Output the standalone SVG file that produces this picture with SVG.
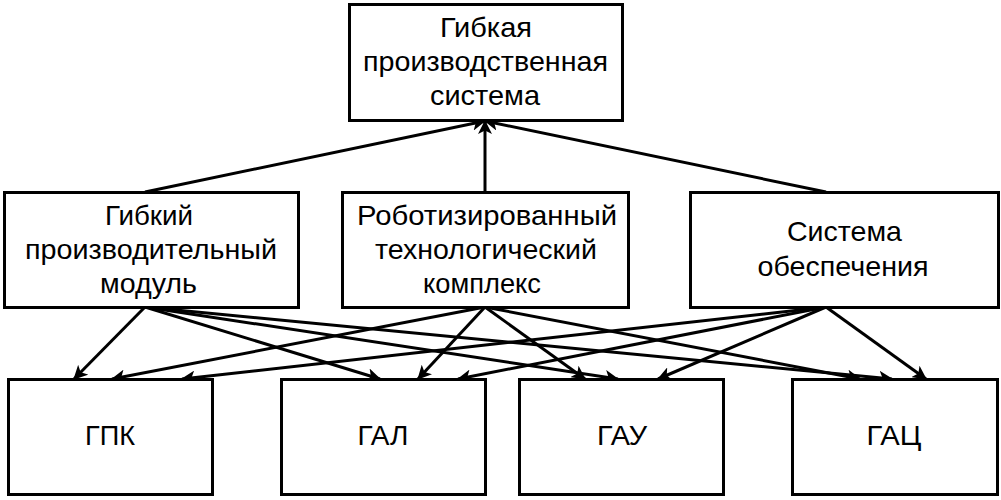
<svg xmlns="http://www.w3.org/2000/svg" width="1001" height="500" viewBox="0 0 1001 500">
<defs>
<style>
.box{fill:#fff;stroke:#000;stroke-width:3}
.t{font-family:"Liberation Sans",Arial,sans-serif;font-size:28px;fill:#000;text-anchor:middle}
.c{stroke:#000;stroke-width:3;fill:none;marker-end:url(#ah)}
</style>
<marker id="ah" markerWidth="14" markerHeight="14" viewBox="0 0 14 14" refX="13" refY="7" orient="auto" markerUnits="userSpaceOnUse">
<path d="M0,0 L14,7 L0,14 L3.5,7 Z" fill="#000"/>
</marker>
</defs>
<rect width="1001" height="500" fill="#fff"/>
<g id="connectors">
<line class="c" x1="145" y1="192" x2="485" y2="121"/>
<line class="c" x1="485" y1="192" x2="485" y2="121"/>
<line class="c" x1="826" y1="192" x2="485" y2="121"/>
<line class="c" x1="145" y1="307" x2="74" y2="379"/>
<line class="c" x1="145" y1="307" x2="380" y2="379"/>
<line class="c" x1="145" y1="307" x2="618" y2="379"/>
<line class="c" x1="145" y1="307" x2="892" y2="379"/>
<line class="c" x1="485" y1="307" x2="112" y2="379"/>
<line class="c" x1="485" y1="307" x2="418" y2="379"/>
<line class="c" x1="485" y1="307" x2="585" y2="379"/>
<line class="c" x1="485" y1="307" x2="860" y2="379"/>
<line class="c" x1="826" y1="307" x2="182" y2="379"/>
<line class="c" x1="826" y1="307" x2="458" y2="379"/>
<line class="c" x1="826" y1="307" x2="658" y2="379"/>
<line class="c" x1="826" y1="307" x2="926" y2="379"/>
</g>
<g id="n-gps">
<rect class="box" x="349.5" y="4.5" width="273" height="116"/>
<text class="t" x="486" y="37" textLength="92" lengthAdjust="spacingAndGlyphs">Гибкая</text>
<text class="t" x="485.5" y="71" textLength="245" lengthAdjust="spacingAndGlyphs">производственная</text>
<text class="t" x="485" y="105" textLength="110" lengthAdjust="spacingAndGlyphs">система</text>
</g>
<g id="n-gpm">
<rect class="box" x="4.5" y="192.5" width="294" height="115"/>
<text class="t" x="149" y="225" textLength="88" lengthAdjust="spacingAndGlyphs">Гибкий</text>
<text class="t" x="151" y="259" textLength="252" lengthAdjust="spacingAndGlyphs">производительный</text>
<text class="t" x="148.5" y="293" textLength="97" lengthAdjust="spacingAndGlyphs">модуль</text>
</g>
<g id="n-rtk">
<rect class="box" x="342.5" y="192.5" width="286" height="115"/>
<text class="t" x="487" y="225" textLength="260" lengthAdjust="spacingAndGlyphs">Роботизированный</text>
<text class="t" x="486" y="259" textLength="222" lengthAdjust="spacingAndGlyphs">технологический</text>
<text class="t" x="482" y="293" textLength="118" lengthAdjust="spacingAndGlyphs">комплекс</text>
</g>
<g id="n-so">
<rect class="box" x="690.5" y="192.5" width="308" height="115"/>
<text class="t" x="844.5" y="241" textLength="115" lengthAdjust="spacingAndGlyphs">Система</text>
<text class="t" x="843" y="276" textLength="171" lengthAdjust="spacingAndGlyphs">обеспечения</text>
</g>
<g id="n-gpk">
<rect class="box" x="8.5" y="379.5" width="204" height="115"/>
<text class="t" x="110" y="445" textLength="50" lengthAdjust="spacingAndGlyphs">ГПК</text>
</g>
<g id="n-gal">
<rect class="box" x="281.5" y="379.5" width="204" height="115"/>
<text class="t" x="383" y="445" textLength="51" lengthAdjust="spacingAndGlyphs">ГАЛ</text>
</g>
<g id="n-gau">
<rect class="box" x="519.5" y="379.5" width="204" height="115"/>
<text class="t" x="622" y="445" textLength="50" lengthAdjust="spacingAndGlyphs">ГАУ</text>
</g>
<g id="n-gac">
<rect class="box" x="792.5" y="379.5" width="205" height="115"/>
<text class="t" x="894" y="445" textLength="55" lengthAdjust="spacingAndGlyphs">ГАЦ</text>
</g>
</svg>
